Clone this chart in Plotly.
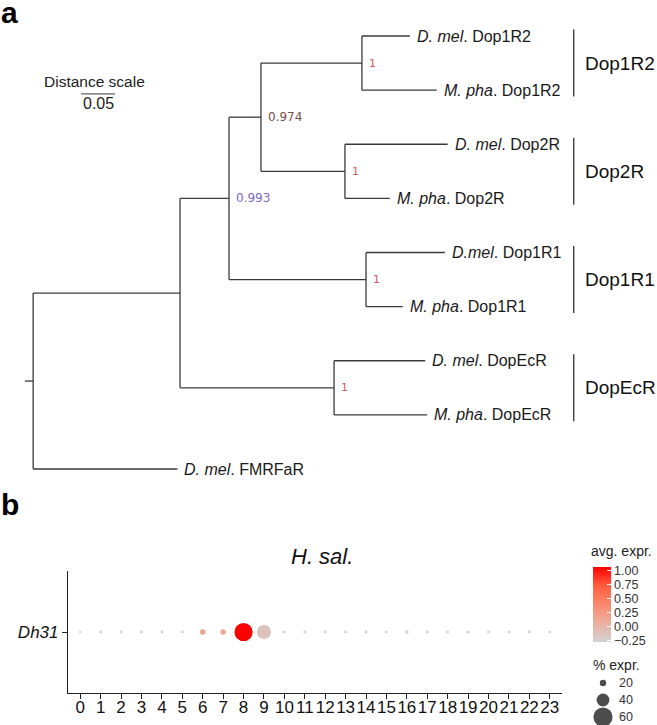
import plotly.graph_objects as go

# ---------------- panel a: phylogeny ----------------
edge_parent = ["root", "root", "in", "in", "n993", "n993", "n974", "n974",
               "c1R2", "c1R2", "c2R", "c2R", "c1R1", "c1R1", "cEcR", "cEcR"]
edge_child = ["in", "FMRFaR", "n993", "cEcR", "n974", "c1R1", "c1R2", "c2R",
              "Dm1R2", "Mp1R2", "Dm2R", "Mp2R", "Dm1R1", "Mp1R1", "DmEcR", "MpEcR"]
edge_length = [0.216, 0.212, 0.072, 0.2265, 0.047, 0.2015, 0.1485, 0.1235,
               0.0706, 0.110, 0.151, 0.066, 0.116, 0.054, 0.134, 0.137]
root_edge = 0.012

leaf_labels = {
    "Dm1R2": "<i>D. mel</i>. Dop1R2", "Mp1R2": "<i>M. pha</i>. Dop1R2",
    "Dm2R": "<i>D. mel</i>. Dop2R", "Mp2R": "<i>M. pha</i>. Dop2R",
    "Dm1R1": "<i>D.mel</i>. Dop1R1", "Mp1R1": "<i>M. pha</i>. Dop1R1",
    "DmEcR": "<i>D. mel</i>. DopEcR", "MpEcR": "<i>M. pha</i>. DopEcR",
    "FMRFaR": "<i>D. mel</i>. FMRFaR",
}
node_support = {"n974": "0.974", "n993": "0.993", "c1R2": "1", "c2R": "1",
                "c1R1": "1", "cEcR": "1"}

clade_names = ["Dop1R2", "Dop2R", "Dop1R1", "DopEcR"]
clade_first = ["Dm1R2", "Dm2R", "Dm1R1", "DmEcR"]
clade_last = ["Mp1R2", "Mp2R", "Mp1R1", "MpEcR"]
scale_length = 0.05

# ---------------- panel b: dot plot ----------------
clusters = list(range(24))
avg_expr = [-0.26, -0.26, -0.26, -0.26, -0.26, -0.25, 0.20, 0.15, 1.08, -0.12,
            -0.25, -0.26, -0.26, -0.26, -0.26, -0.26, -0.22, -0.26, -0.26, -0.22,
            -0.25, -0.27, -0.26, -0.26]
pct_expr = [8, 9, 9, 9, 9, 9, 17, 17, 57, 44,
            9, 9, 9, 9, 9, 8, 11, 9, 9, 10,
            9, 8, 9, 8]
gene = "Dh31"
size_breaks = [20, 40, 60]
color_ticks = [-0.25, 0.0, 0.25, 0.5, 0.75, 1.0]

W, H = 657, 725
FONT = "Liberation Sans, Arial, sans-serif"
LINE = "#3a3a3a"


def px(x):
    return x / W


def py(y):
    return 1 - y / H


def dot_size(p):
    # radius proportional to % expressed (diameter in px)
    return p * 0.32


# --- tree layout (x = cumulative branch length, y = leaf order / mean of children)
children = {}
for p, c, l in zip(edge_parent, edge_child, edge_length):
    children.setdefault(p, []).append((c, l))

xpos = {"root": root_edge}
ypos = {}
leaf_order = []


def place(node):
    for c, l in children.get(node, []):
        xpos[c] = xpos[node] + l
        place(c)
    if node in children:
        ys = [ypos[c] for c, _ in children[node]]
        ypos[node] = sum(ys) / len(ys)
    else:
        ypos[node] = len(leaf_order)
        leaf_order.append(node)


place("root")

seg_x, seg_y = [0, root_edge, None], [ypos["root"]] * 2 + [None]
for p, c in zip(edge_parent, edge_child):
    seg_x += [xpos[p], xpos[c], None]
    seg_y += [ypos[c], ypos[c], None]
for node, kids in children.items():
    ys = [ypos[c] for c, _ in kids]
    seg_x += [xpos[node], xpos[node], None]
    seg_y += [min(ys), max(ys), None]

fig = go.Figure()
fig.add_trace(go.Scatter(x=seg_x, y=seg_y, mode="lines",
                         line=dict(color=LINE, width=1.3),
                         hoverinfo="skip", showlegend=False,
                         xaxis="x", yaxis="y"))

# scale bar
sb_x0, sb_y = 0.0825, 1.07
fig.add_trace(go.Scatter(x=[sb_x0, sb_x0 + scale_length], y=[sb_y, sb_y],
                         mode="lines", line=dict(color=LINE, width=1),
                         hoverinfo="skip", showlegend=False,
                         xaxis="x", yaxis="y"))

ann = []
ann.append(dict(x=sb_x0 + scale_length / 2 - 0.005, y=sb_y - 0.23, xref="x", yref="y",
                text="Distance scale", showarrow=False,
                font=dict(size=15.5, color="#222", family=FONT)))
ann.append(dict(x=sb_x0 + scale_length / 2, y=sb_y + 0.17, xref="x", yref="y",
                text=f"{scale_length:.2f}", showarrow=False,
                font=dict(size=16, color="#222", family=FONT)))

for leaf in leaf_order:
    ann.append(dict(x=xpos[leaf], y=ypos[leaf], xref="x", yref="y",
                    text=leaf_labels[leaf], showarrow=False, xanchor="left",
                    xshift=5, font=dict(size=16, color="#1a1a1a", family=FONT)))

support_color = {"0.974": "#7d4e4e", "0.993": "#7a68c4", "1": "#d45a5a"}
for node, val in node_support.items():
    ann.append(dict(x=xpos[node], y=ypos[node], xref="x", yref="y", text=val,
                    showarrow=False, xanchor="left", xshift=5,
                    font=dict(size=12 if val != "1" else 11,
                              color=support_color[val], family="DejaVu Sans")))

clade_bar_x = 0.807
for name, a, b in zip(clade_names, clade_first, clade_last):
    y0, y1 = ypos[a] - 0.12, ypos[b] + 0.12
    fig.add_trace(go.Scatter(x=[clade_bar_x, clade_bar_x], y=[y0, y1], mode="lines",
                             line=dict(color="#222", width=1.2),
                             hoverinfo="skip", showlegend=False,
                             xaxis="x", yaxis="y"))
    ann.append(dict(x=clade_bar_x, y=(ypos[a] + ypos[b]) / 2, xref="x", yref="y",
                    text=name, showarrow=False, xanchor="left", xshift=9,
                    font=dict(size=19, color="#111", family=FONT)))

# --- dot plot
fig.add_trace(go.Scatter(
    x=clusters, y=[gene] * len(clusters), mode="markers",
    marker=dict(size=[dot_size(p) for p in pct_expr], color=avg_expr, opacity=1,
                cmin=-0.27, cmax=1.08,
                colorscale=[[0, "#d3d3d3"], [0.25, "rgb(236,175,159)"],
                            [0.5, "rgb(249,137,110)"], [0.75, "rgb(255,93,61)"],
                            [1, "#ff0000"]],
                line=dict(width=0),
                colorbar=dict(thickness=18, len=75, lenmode="pixels", ypad=0, xpad=0,
                              x=px(593), xanchor="left", y=py(604), yanchor="middle",
                              tickvals=color_ticks,
                              ticktext=[f"{v:.2f}".replace("-", "\u2212") for v in color_ticks],
                              ticks="inside", ticklen=4, tickcolor="white",
                              outlinewidth=0,
                              tickfont=dict(size=12.5, color="#333", family=FONT))),
    hoverinfo="skip", showlegend=False, xaxis="x2", yaxis="y2"))

# size legend
fig.add_trace(go.Scatter(
    x=[0] * len(size_breaks), y=list(range(len(size_breaks))), mode="markers",
    marker=dict(size=[dot_size(s) for s in size_breaks], color="black", line=dict(width=0)),
    hoverinfo="skip", showlegend=False, xaxis="x3", yaxis="y3"))
for i, s in enumerate(size_breaks):
    ann.append(dict(x=0, y=i, xref="x3", yref="y3", text=str(s), showarrow=False,
                    xanchor="left", yanchor="middle", xshift=14,
                    font=dict(size=12.5, color="#333", family=FONT)))


def paper_text(x, y, text, size, color="#222", xanchor="left"):
    ann.append(dict(x=px(x), y=py(y), xref="paper", yref="paper", text=text,
                    showarrow=False, xanchor=xanchor, yanchor="middle",
                    font=dict(size=size, color=color, family=FONT)))


paper_text(589, 551, "avg. expr.", 14)
paper_text(591, 665, "% expr.", 14)
paper_text(322, 556, "<i>H. sal.</i>", 22, "#111", "center")
# panel letters
paper_text(-1, 12, "<b>a</b>", 30, "black")
paper_text(-1, 505, "<b>b</b>", 30, "black")

hidden = dict(visible=False, showgrid=False, zeroline=False)
fig.update_layout(
    width=W, height=H, margin=dict(l=0, r=0, t=0, b=0),
    paper_bgcolor="white", plot_bgcolor="white",
    xaxis=dict(domain=[0, 1], range=[-25 / 680, (W - 25) / 680], **hidden),
    yaxis=dict(domain=[py(480), 1], range=[(480 - 36) / 54.125, -36 / 54.125], **hidden),
    xaxis2=dict(domain=[px(68), px(562)], range=[-0.6, 23.6], anchor="y2",
                tickvals=clusters, tickangle=0, ticks="outside", ticklen=5, tickwidth=1.2,
                ticklabelstandoff=-7,
                tickcolor="#222", showline=True, linecolor="#222", linewidth=1.2,
                showgrid=False, zeroline=False,
                tickfont=dict(size=17, color="#111", family=FONT)),
    yaxis2=dict(domain=[py(693), py(571)], anchor="x2", type="category",
                range=[-1, 1], tickvals=[gene], ticktext=[f"<i>{gene}</i>"],
                ticks="outside", ticklen=5, tickwidth=1.2, tickcolor="#222",
                showline=True, linecolor="#222", linewidth=1.2,
                showgrid=False, zeroline=False,
                tickfont=dict(size=17, color="#111", family=FONT)),
    xaxis3=dict(domain=[px(593), px(613)], range=[-0.5, 0.5], anchor="y3", **hidden),
    yaxis3=dict(domain=[py(725), py(666)], range=[2.47, -1], anchor="x3", **hidden),
    annotations=ann,
)

fig.write_html("out.html", config={"displayModeBar": False},
               post_script="document.body.style.margin='0';")
